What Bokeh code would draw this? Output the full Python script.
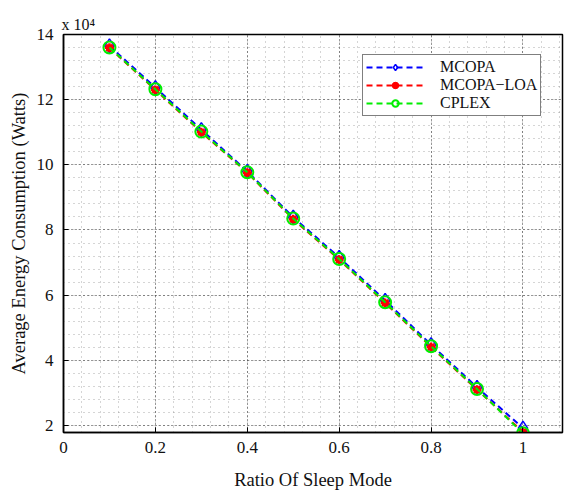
from bokeh.plotting import figure
from bokeh.models import Range1d, FixedTicker, Legend, LegendItem
from bokeh.embed import file_html
from bokeh.resources import INLINE

# Data (energy in units of 10^4 Watts)
ratio = [0.1, 0.2, 0.3, 0.4, 0.5, 0.6, 0.7, 0.8, 0.9, 1.0]
mcopa = [13.65, 12.37, 11.08, 9.80, 8.39, 7.16, 5.84, 4.48, 3.17, 1.92]
mcopa_loa = [13.59, 12.30, 11.00, 9.76, 8.33, 7.09, 5.76, 4.41, 3.10, 1.80]
cplex = [13.60, 12.32, 11.02, 9.77, 8.35, 7.11, 5.78, 4.43, 3.12, 1.76]

x_ticks = [0, 0.2, 0.4, 0.6, 0.8, 1.0]
y_ticks = [2, 4, 6, 8, 10, 12, 14]
x_minor = [round(i * 0.04, 2) for i in range(0, 28)]
y_minor = [round(1.6 + i * 0.4, 1) for i in range(0, 32)]

FONT = "Liberation Serif"

p = figure(width=565, height=493, output_backend="svg", toolbar_location=None,
           x_range=Range1d(0, 1.086), y_range=Range1d(1.785, 14),
           min_border_left=63, min_border_right=3, min_border_top=34, min_border_bottom=61)

p.background_fill_color = "white"
p.border_fill_color = "white"
p.outline_line_color = "black"
p.outline_line_width = 1.5

p.xaxis.ticker = FixedTicker(ticks=x_ticks, minor_ticks=x_minor)
p.yaxis.ticker = FixedTicker(ticks=y_ticks, minor_ticks=y_minor)
p.xaxis.major_label_overrides = {0: "0", 1.0: "1"}

for ax in (p.xaxis[0], p.yaxis[0]):
    ax.major_tick_in = 5
    ax.major_tick_out = 0
    ax.minor_tick_in = 0
    ax.minor_tick_out = 0
    ax.axis_line_color = "black"
    ax.axis_line_width = 1.5
    ax.major_tick_line_color = "black"
    ax.major_label_text_font = FONT
    ax.major_label_text_font_size = "17px"
    ax.major_label_text_color = "#111111"
    ax.axis_label_text_font = FONT
    ax.axis_label_text_font_style = "normal"
    ax.axis_label_text_font_size = "18.5px"
    ax.axis_label_text_color = "#111111"

p.xaxis.axis_label = "Ratio Of Sleep Mode"
p.yaxis.axis_label = "Average Energy Consumption (Watts)"
p.xaxis.major_label_standoff = 9
p.yaxis.major_label_standoff = 10
p.xaxis.axis_label_standoff = 14
p.yaxis.axis_label_standoff = 5

for g in (p.xgrid[0], p.ygrid[0]):
    g.grid_line_color = "black"
    g.grid_line_dash = "1 3"
    g.grid_line_width = 1
    g.grid_line_alpha = 0.8
    g.minor_grid_line_color = "#888888"
    g.minor_grid_line_dash = "1 4"
    g.minor_grid_line_width = 1
    g.minor_grid_line_alpha = 0.7

# Exponent label
p.title.text = "x 10\u2074"
p.title.text_font = FONT
p.title.text_font_size = "16px"
p.title.text_font_style = "normal"
p.title.text_color = "#111111"
p.title.align = "left"
p.title.offset = -2
p.title.standoff = 3

r1 = p.line(ratio, mcopa, line_color="blue", line_width=2, line_dash="6 4")
m1 = p.scatter(ratio, mcopa, marker="diamond", size=14, line_color="blue", line_width=1.5,
               fill_color=None)
r2 = p.line(ratio, mcopa_loa, line_color="red", line_width=2, line_dash="6 4")
m2 = p.scatter(ratio, mcopa_loa, marker="asterisk", size=9, line_color="red", line_width=2.5)
m2b = p.scatter(ratio, mcopa_loa, marker="circle", size=6, line_color="red", fill_color="red")
r3 = p.line(ratio, cplex, line_color="#00ee00", line_width=2, line_dash="6 4")
m3 = p.scatter(ratio, cplex, marker="circle", size=12, line_color="#00ee00", line_width=2,
               fill_color=None)

legend = Legend(items=[
    LegendItem(label="MCOPA", renderers=[r1, m1]),
    LegendItem(label="MCOPA\u2212LOA", renderers=[r2, m2, m2b]),
    LegendItem(label="CPLEX", renderers=[r3, m3]),
], location=(299, 316))
legend.label_text_font = FONT
legend.label_text_font_size = "16px"
legend.label_text_color = "#111111"
legend.border_line_color = "black"
legend.border_line_width = 1
legend.background_fill_alpha = 1
legend.glyph_width = 58
legend.glyph_height = 16
legend.label_height = 16
legend.label_standoff = 16
legend.spacing = 0
legend.padding = 3
legend.margin = 0
p.add_layout(legend)

open("out.html", "w").write(file_html(p, INLINE))
